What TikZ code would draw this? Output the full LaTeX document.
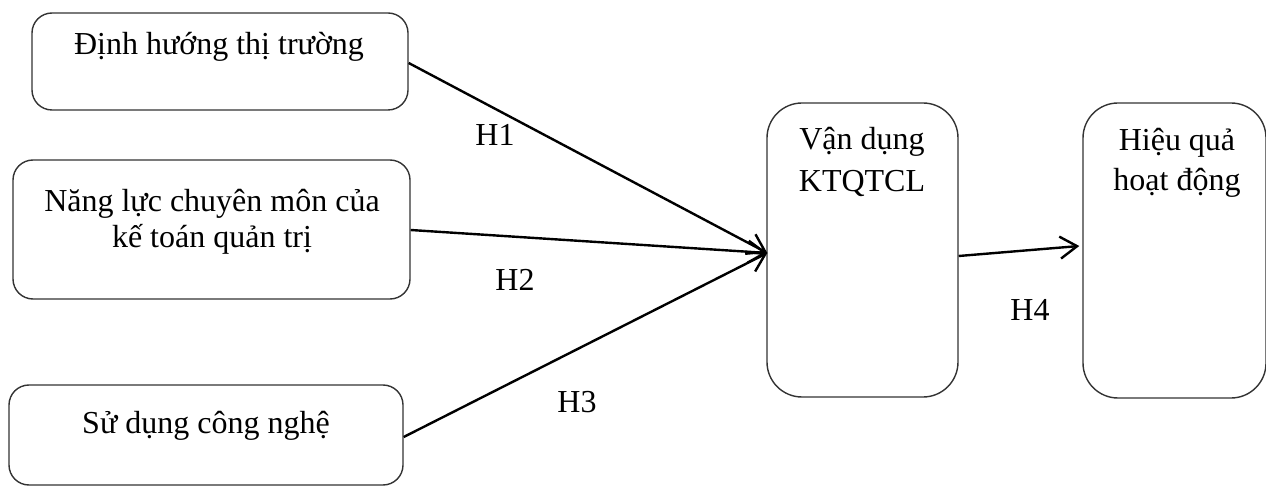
\documentclass[tikz,border=0pt]{standalone}
\usepackage{fontspec}
\setmainfont{Liberation Serif}
\usetikzlibrary{arrows.meta}
\begin{document}
\begin{tikzpicture}[x=1pt,y=-1pt,
  box/.style={draw=black!80, line width=1.4pt, rounded corners=20pt, inner sep=0pt},
  tallbox/.style={box, rounded corners=35pt},
  txt/.style={font=\fontsize{32}{36}\selectfont, inner sep=0pt, align=center, anchor=base},
  lbl/.style={font=\fontsize{32}{36}\selectfont, inner sep=0pt},
  conn/.style={line width=2.4pt, -{Straight Barb[length=17pt,width=22pt,line width=2.4pt]}}]
\useasboundingbox (0,0) rectangle (1266,486);
% boxes
\node[box, minimum width=376pt, minimum height=97pt] (b1) at (220,61.5) {};
\node[box, minimum width=397pt, minimum height=139pt] (b2) at (211.5,229.5) {};
\node[box, minimum width=394pt, minimum height=100pt] (b3) at (206,435) {};
\node[tallbox, minimum width=191pt, minimum height=294pt] (b4) at (862.5,250) {};
\node[tallbox, minimum width=183pt, minimum height=295pt] (b5) at (1174.5,250.5) {};
% texts (base anchor = baseline of the last line)
\node[txt] (t1) at (219,55) {Định hướng thị trường};
\node[txt, font=\fontsize{32}{36}\selectfont] (t2) at (212,248) {Năng lực chuyên môn của\\kế toán quản trị};
\node[txt] (t3) at (206,433) {Sử dụng công nghệ};
\node[txt, font=\fontsize{32}{42}\selectfont] (t4) at (862,192) {Vận dụng\\KTQTCL};
\node[txt, font=\fontsize{32}{40}\selectfont] (t5) at (1177,191) {Hiệu quả\\hoạt động};
% connectors
\coordinate (e4) at ([xshift=1pt,yshift=-3pt]b4.west);
\draw[conn] ([yshift=-1.5pt]b1.east) -- (e4);
\draw[conn] ([yshift=-0.5pt]b2.east) -- (e4);
\draw[conn] ([yshift=-2pt]b3.east) -- (e4);
\draw[conn] ([yshift=-6pt]b4.east) -- ([yshift=4.5pt,xshift=-3pt]b5.west);
% labels
\node[lbl] (h1) at (495,135) {H1};
\node[lbl] (h2) at (515,280) {H2};
\node[lbl] (h3) at (577,402) {H3};
\node[lbl] (h4) at (1030,310) {H4};
\end{tikzpicture}
\end{document}
